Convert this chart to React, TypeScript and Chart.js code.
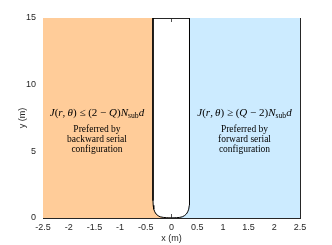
import React, { useEffect, useRef } from "react";
import { Chart, registerables } from "chart.js";

Chart.register(...registerables);

// ---- data ----
const xRange = [-2.5, 2.5];
const yRange = [0, 15];
const xTicks = [-2.5, -2, -1.5, -1, -0.5, 0, 0.5, 1, 1.5, 2, 2.5];
const yTicks = [0, 5, 10, 15];

// boundary J(r,θ) = ±(Q−2)N_sub d, left branch (top → bottom) and right branch (bottom → top)
const leftBoundaryX = [-0.36, -0.36, -0.356, -0.345, -0.325, -0.3, -0.26, -0.22, -0.16, -0.1, -0.05, 0];
const leftBoundaryY = [15, 1.3, 0.95, 0.66, 0.46, 0.3, 0.17, 0.09, 0.045, 0.025, 0.015, 0.01];
const rightBoundaryX = [0, 0.05, 0.1, 0.16, 0.21, 0.25, 0.29, 0.315, 0.335, 0.346, 0.35, 0.35];
const rightBoundaryY = [0.01, 0.015, 0.025, 0.045, 0.09, 0.17, 0.3, 0.46, 0.66, 0.95, 1.3, 15];

const regionColors = ["#FFCC99", "#CCEBFF"];
const annotationX = [-1.45, 1.42];
const mathY = 7.94;
const noteY = [6.66, 5.91, 5.12];
const leftNote = ["Preferred by", "backward serial", "configuration"];
const rightNote = ["Preferred by", "forward serial", "configuration"];
const xTitle = "x (m)";
const yTitle = "y (m)";

type Run = { t: string; it?: boolean; sub?: boolean };
const leftMath: Run[] = [
  { t: "J", it: true }, { t: "(" }, { t: "r", it: true }, { t: ",\u2009" }, { t: "θ", it: true },
  { t: ") ≤ (2 − " }, { t: "Q", it: true }, { t: ")" }, { t: "N", it: true },
  { t: "sub", sub: true }, { t: "d", it: true },
];
const rightMath: Run[] = [
  { t: "J", it: true }, { t: "(" }, { t: "r", it: true }, { t: ",\u2009" }, { t: "θ", it: true },
  { t: ") ≥ (" }, { t: "Q", it: true }, { t: " − 2)" }, { t: "N", it: true },
  { t: "sub", sub: true }, { t: "d", it: true },
];

const AXIS = "#262626";
const SERIF = '"Liberation Serif", "DejaVu Serif", serif';
const SANS = '"Liberation Sans", Arial, sans-serif';

const annotationPlugin = {
  id: "annotations",
  afterDatasetsDraw(chart: any) {
    const ctx = chart.ctx as CanvasRenderingContext2D;
    const xs = chart.scales.x;
    const ys = chart.scales.y;
    const mathSize = 11;
    const fontFor = (r: Run) =>
      r.sub ? `${mathSize * 0.7}px ${SERIF}` : `${r.it ? "italic " : ""}${mathSize}px ${SERIF}`;
    const drawMath = (runs: Run[], cx: number, cy: number) => {
      ctx.save();
      ctx.textBaseline = "alphabetic";
      ctx.textAlign = "left";
      ctx.fillStyle = "#000";
      let total = 0;
      for (const r of runs) {
        ctx.font = fontFor(r);
        total += ctx.measureText(r.t).width;
      }
      let x = cx - total / 2;
      const base = cy + mathSize * 0.35;
      for (const r of runs) {
        ctx.font = fontFor(r);
        ctx.fillText(r.t, x, r.sub ? base + mathSize * 0.18 : base);
        x += ctx.measureText(r.t).width;
      }
      ctx.restore();
    };
    const drawNote = (lines: string[], cx: number) => {
      ctx.save();
      ctx.textAlign = "center";
      ctx.textBaseline = "middle";
      ctx.fillStyle = "#000";
      ctx.font = `9.5px ${SERIF}`;
      lines.forEach((l, i) => ctx.fillText(l, cx, ys.getPixelForValue(noteY[i])));
      ctx.restore();
    };
    drawMath(leftMath, xs.getPixelForValue(annotationX[0]), ys.getPixelForValue(mathY));
    drawMath(rightMath, xs.getPixelForValue(annotationX[1]), ys.getPixelForValue(mathY));
    drawNote(leftNote, xs.getPixelForValue(annotationX[0]));
    drawNote(rightNote, xs.getPixelForValue(annotationX[1]));
  },
};

export default function App() {
  const ref = useRef<HTMLCanvasElement | null>(null);
  useEffect(() => {
    document.body.style.margin = "0";
    if (!ref.current) return;
    const leftPts = leftBoundaryX.map((x, i) => ({ x, y: leftBoundaryY[i] }));
    const rightPts = rightBoundaryX.map((x, i) => ({ x, y: rightBoundaryY[i] }));
    const orange = [{ x: xRange[0], y: yRange[1] }, ...leftPts];
    const blue = [...rightPts, { x: xRange[1], y: yRange[1] }];
    const curve = [...leftPts, ...rightPts.slice(1)];

    const tickFont = { family: SANS, size: 9 };
    const gridOpts = { drawOnChartArea: false, drawTicks: true, tickLength: -4, color: AXIS, lineWidth: 0.8 };
    const borderOpts = { display: true, color: AXIS, width: 1 };

    const chart = new Chart(ref.current, {
      type: "line",
      data: {
        datasets: [
          { label: "boundary", data: curve, borderColor: "#000", borderWidth: 1, pointRadius: 0, fill: false, tension: 0 },
          { label: "backward", data: orange, borderWidth: 0, borderColor: "rgba(0,0,0,0)", backgroundColor: regionColors[0], pointRadius: 0, fill: "origin", tension: 0 },
          { label: "forward", data: blue, borderWidth: 0, borderColor: "rgba(0,0,0,0)", backgroundColor: regionColors[1], pointRadius: 0, fill: "origin", tension: 0 },
        ],
      },
      options: {
        animation: false,
        responsive: false,
        parsing: false,
        layout: { padding: { top: 18, right: 32, left: 0, bottom: 0 } },
        plugins: { legend: { display: false }, tooltip: { enabled: false } },
        scales: {
          x: {
            type: "linear", position: "bottom", min: xRange[0], max: xRange[1],
            afterBuildTicks: (s: any) => { s.ticks = xTicks.map((v) => ({ value: v })); },
            afterFit: (s: any) => { s.height = 27; },
            ticks: { color: AXIS, font: tickFont, padding: 8, maxRotation: 0, autoSkip: false, callback: (v: any) => String(v) },
            grid: gridOpts, border: borderOpts,
            title: { display: true, text: xTitle, color: AXIS, font: { family: SANS, size: 9 }, padding: { top: 0, bottom: 1 } },
          },
          x2: {
            type: "linear", position: "top", min: xRange[0], max: xRange[1],
            afterBuildTicks: (s: any) => { s.ticks = xTicks.map((v) => ({ value: v })); },
            afterFit: (s: any) => { s.height = 0; },
            ticks: { display: false }, grid: gridOpts, border: borderOpts,
          },
          y: {
            type: "linear", position: "left", min: yRange[0], max: yRange[1],
            afterBuildTicks: (s: any) => { s.ticks = yTicks.map((v) => ({ value: v })); },
            afterFit: (s: any) => { s.width = 43; },
            ticks: { color: AXIS, font: tickFont, padding: 11, callback: (v: any) => String(v) },
            grid: gridOpts, border: borderOpts,
            title: { display: true, text: yTitle, color: AXIS, font: { family: SANS, size: 9 }, padding: { top: 17, bottom: 0 } },
          },
          y2: {
            type: "linear", position: "right", min: yRange[0], max: yRange[1],
            afterBuildTicks: (s: any) => { s.ticks = yTicks.map((v) => ({ value: v })); },
            afterFit: (s: any) => { s.width = 0; },
            ticks: { display: false }, grid: gridOpts, border: borderOpts,
          },
        },
      },
      plugins: [annotationPlugin],
    } as any);
    return () => chart.destroy();
  }, []);
  return (
    <div style={{ width: 332, height: 245, background: "#fff" }}>
      <canvas ref={ref} width={332} height={245} style={{ display: "block" }} />
    </div>
  );
}
